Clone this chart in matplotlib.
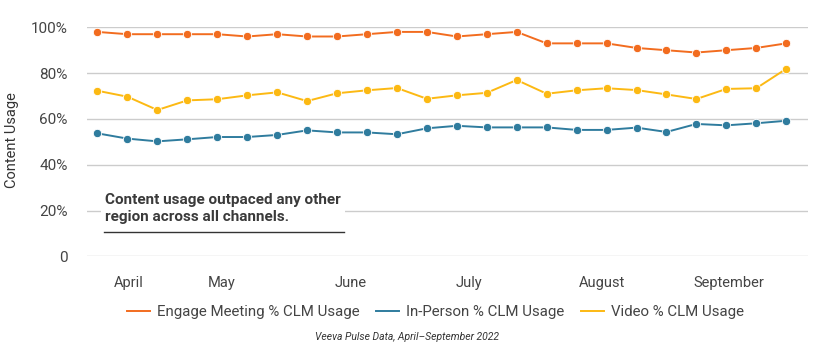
import numpy as np
import matplotlib
matplotlib.use("Agg")
import matplotlib.pyplot as plt

plt.rcParams['font.family'] = ['Roboto', 'DejaVu Sans']

# weekly CLM usage (%), April - September 2022
engage = [98, 97, 97, 97, 97, 96, 97, 96, 96, 97, 98, 98,
          96, 97, 98, 93, 93, 93, 91, 90, 89, 90, 91, 93]
in_person = [53.7, 51.4, 50.2, 51.1, 52.1, 52.1, 53.0, 55.0, 54.1, 54.1, 53.3, 55.9,
             57.0, 56.3, 56.3, 56.3, 55.2, 55.2, 56.2, 54.3, 57.8, 57.2, 58.1, 59.2]
video = [72.3, 69.7, 63.9, 68.1, 68.6, 70.3, 71.6, 67.8, 71.2, 72.5, 73.5, 68.8,
         70.3, 71.4, 77.0, 71.0, 72.5, 73.4, 72.6, 70.7, 68.7, 73.1, 73.4, 81.9]

months = ["April", "May", "June", "July", "August", "September"]
month_pos = [1.05, 4.15, 8.45, 12.4, 16.85, 21.1]

y_ticks = [0, 20, 40, 60, 80, 100]
y_labels = ["0", "20%", "40%", "60%", "80%", "100%"]

weeks = np.arange(len(engage))

c_engage = "#f26c1f"
c_person = "#2f7c9e"
c_video = "#fcb913"

fig = plt.figure(figsize=(8.13, 3.55), dpi=100)
ax = fig.add_axes([0.107, 0.278, 0.887, 0.645])

for vals, col, lab in [(engage, c_engage, "Engage Meeting % CLM Usage"),
                       (in_person, c_person, "In-Person % CLM Usage"),
                       (video, c_video, "Video % CLM Usage")]:
    ax.plot(weeks, vals, color=col, lw=1.4, label=lab, clip_on=False, zorder=3)
    ax.plot(weeks, vals, ls="none", marker="o", ms=6, color=col,
            markeredgecolor="white", markeredgewidth=0.6, clip_on=False, zorder=4)

ax.set_xlim(-0.35, 23.73)
ax.set_ylim(0, 100)
ax.set_yticks(y_ticks)
ax.set_yticklabels(y_labels)
ax.set_xticks(month_pos)
ax.set_xticklabels(months)
ax.tick_params(axis="y", length=0, pad=14, labelsize=11, labelcolor="#444444")
ax.tick_params(axis="x", length=0, pad=14, labelsize=10.5, labelcolor="#444444")
ax.grid(axis="y", color="#cccccc", lw=1)
ax.set_axisbelow(True)
for s in ax.spines.values():
    s.set_visible(False)

fig.text(0.015, 0.605, "Content Usage", rotation=90, ha="center", va="center",
         fontsize=10.5, color="#333333")

# annotation box over the 20% line
ax.text(0.025, 0.21, "Content usage outpaced any other\nregion across all channels.",
        transform=ax.transAxes, fontsize=11, fontweight="bold", color="#3a3a3a",
        ha="left", va="center", linespacing=1.3,
        bbox=dict(facecolor="white", edgecolor="none", pad=3), zorder=5)
ax.plot([0.0235, 0.357], [0.105, 0.105], transform=ax.transAxes,
        color="#333333", lw=1, clip_on=False, zorder=6)

handles = [plt.Line2D([], [], color=c, lw=1.4) for c in (c_engage, c_person, c_video)]
fig.legend(handles, ["Engage Meeting % CLM Usage", "In-Person % CLM Usage", "Video % CLM Usage"],
           loc="center", bbox_to_anchor=(0.536, 0.12), ncol=3, frameon=False,
           fontsize=10.8, labelcolor="#444444", handlelength=1.5,
           handletextpad=0.5, columnspacing=1.1)

fig.text(0.5, 0.05, "Veeva Pulse Data, April\u2013September 2022", ha="center", va="center",
         fontsize=7.5, style="italic", color="#333333")

fig.savefig("out.png", dpi=100)
